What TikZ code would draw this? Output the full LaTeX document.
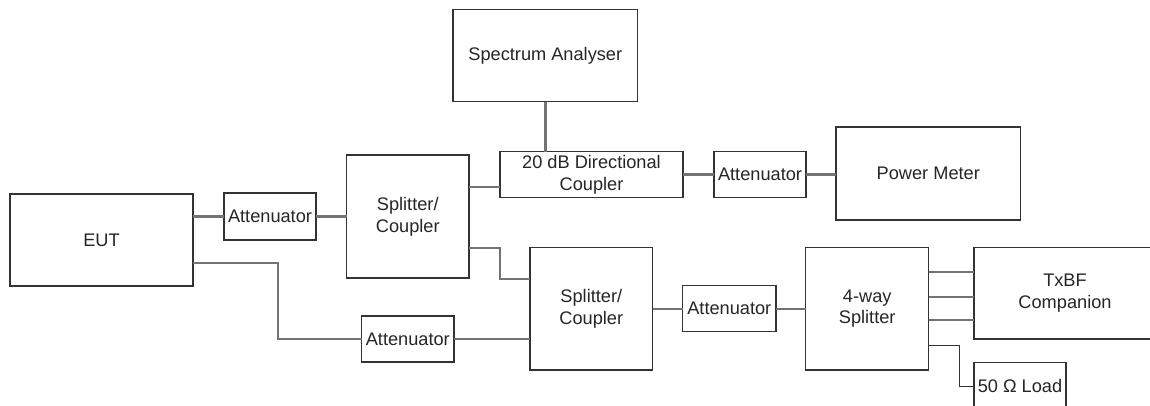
\documentclass[tikz,border=0pt]{standalone}
\usepackage{fontspec}
\setmainfont{Liberation Sans}
\begin{document}
\begin{tikzpicture}[x=1pt,y=-1pt,
  box/.style={draw=black!80, line width=1.4pt, fill=white, inner sep=0pt, outer sep=0pt,
    align=center, text=black!85, font=\fontsize{18.2}{21.8}\selectfont},
  wire/.style={draw=black!55, line width=2.4pt},
  thinwire/.style={draw=black!80, line width=1.4pt}]
\useasboundingbox (0,0) rectangle (1150,405);
\clip (0,0) rectangle (1150,405);
\fill[white] (0,0) rectangle (1150,405);
% nodes
\node[box, minimum width=183, minimum height=92] (eut) at (101.5,240) {EUT};
\node[box, minimum width=92, minimum height=47] (att1) at (270,216.5) {Attenuator};
\node[box, minimum width=122.5, minimum height=123] (sp1) at (407.75,216.5) {Splitter/\\Coupler};
\node[box, minimum width=184.7, minimum height=92.4] (sa) at (545.3,55.5) {Spectrum Analyser};
\node[box, minimum width=183, minimum height=45.6] (dc) at (591.5,174.5) {20 dB Directional\\Coupler};
\node[box, minimum width=92, minimum height=45.6] (att2) at (760,174.5) {Attenuator};
\node[box, minimum width=184.7, minimum height=93] (pm) at (928.3,173.5) {Power Meter};
\node[box, minimum width=122.7, minimum height=122.7] (sp2) at (591.3,308.7) {Splitter/\\Coupler};
\node[box, minimum width=93.3, minimum height=46] (att3) at (729.3,308.7) {Attenuator};
\node[box, minimum width=92.3, minimum height=46] (att4) at (407.8,339) {Attenuator};
\node[box, minimum width=123, minimum height=122.7] (sp4) at (867.2,308.7) {4-way\\Splitter};
\node[box, minimum width=182, minimum height=91.7] (txbf) at (1065,293.2) {TxBF\\Companion};
\node[box, minimum width=92, minimum height=47] (load) at (1020,386.2) {50 Ω Load};
% connectors
\draw[wire] (att1.west -| eut.east) -- (att1.west);
\draw[wire] (att1.east) -- (att1.east -| sp1.west);
\draw[wire] ([yshift=29.5pt]sp1.east) -- ([yshift=29.5pt]sp1.east -| dc.west);
\draw[wire] (sa.south) -- (sa.south |- dc.north);
\draw[wire] (dc.east |- att2.west) -- (att2.west);
\draw[wire] (att2.east) -- (att2.east -| pm.west);
\draw[wire] ([yshift=-31.5pt]sp1.east) -- ++(31,0) |- ([yshift=29.7pt]sp2.west);
\draw[wire] ([yshift=-22.7pt]eut.east) -- ++(84.7,0) |- (att4.west);
\draw[wire] (att4.east) -- (att4.east -| sp2.west);
\draw[wire] (sp2.east |- att3.west) -- (att3.west);
\draw[wire] (att3.east) -- (att3.east -| sp4.west);
\draw[wire] ([yshift=37pt]sp4.east) -- ([yshift=37pt]sp4.east -| txbf.west);
\draw[wire] ([yshift=12pt]sp4.east) -- ([yshift=12pt]sp4.east -| txbf.west);
\draw[wire] ([yshift=-11.3pt]sp4.east) -- ([yshift=-11.3pt]sp4.east -| txbf.west);
\draw[thinwire] ([yshift=-37pt]sp4.east) -- ++(31,0) |- (load.west);
\end{tikzpicture}
\end{document}
